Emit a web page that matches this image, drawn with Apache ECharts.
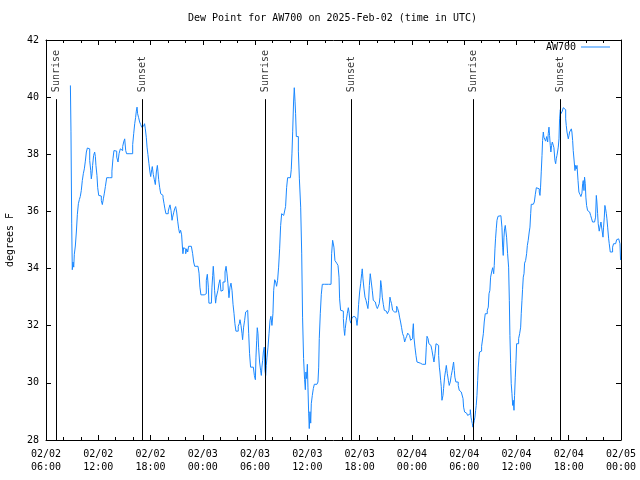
<!DOCTYPE html>
<html>
<head>
<meta charset="utf-8">
<script src="https://cdn.jsdelivr.net/npm/echarts@6/dist/echarts.min.js"></script>
<style>html,body{margin:0;padding:0;background:#fff}#c{width:640px;height:480px}</style>
</head>
<body>
<div id="c"></div>
<script>
// Minutes after 2025-02-02 06:00 UTC
const minutes = [168,172,177,181,186,191,195,202,209,216,223,230,236,243,250,257,264,271,278,285,294,301,308,312,317,321,328,335,340,344,351,356,363,372,381,388,395,402,409,418,427,436,448,454,461,468,477,487,496,503,512,521,528,535,542,549,555,567,578,590,597,604,611,617,622,627,631,638,645,652,659,666,673,679,684,691,696,702,709,716,721,728,732,739,746,753,760,767,771,776,783,790,797,806,813,819,826,836,842,849,854,861,868,872,879,886,893,900,907,914,920,927,934,939,943,948,955,962,969,976,982,992,1001,1010,1017,1024,1035,1047,1054,1060,1067,1079,1090,1097,1104,1111,1118,1122,1132,1139,1143,1148,1152,1157,1161,1168,1173,1180,1184,1191,1198,1205,1212,1219,1226,1233,1240,1246,1253,1260,1267,1274,1281,1288,1295,1301,1308,1318,1324,1331,1336,1343,1350,1354,1361,1368,1375,1382,1389,1396,1402,1409,1421,1428,1435,1442,1446,1451,1455,1460,1464,1471,1478,1483,1487,1492,1497,1503,1508,1513,1517,1522,1529,1536,1543,1549,1556,1563,1568,1575,1582,1588,1595,1602,1609,1616,1623,1630,1637,1644,1650,1657,1664,1673,1683,1689,1694,1699,1705,1710,1715,1719,1724,1733,1738,1745,1754,1761,1767,1774,1781,1786,1790,1795,1800,1804,1809,1813,1818,1823,1827,1834,1841,1848,1857,1866,1873,1878,1882,1889,1896,1903,1917,1930,1946,1963,
1967,1974,1983,1990,2002,2011,2018,2022,2029,2041,2048,2052,2057,2061,2068,2075,2082,2087,2093,2100,2107,2114,2121,2128,2135,2142,2148,2153,2160,2167,2174,2178,2183,2190,2197,2204,2210,2217,2222,2227,2233,2240,2247,2254,2261,2268,2275,2282,2288,2295,2300,2305,2311,2316,2323,2330,2337,2344,2351,2357,2362,2369,2373,2380,2387,2394,2401,2408,2415,2422,2429,2435,2442,2449,2456,2463,2470,2477,2484,2491,2497,2504,2511,2518,2525,2530,2534,2541,2548,2555,2566,2578,2592,2605,2614,2619,2624,2631,2637,2644,2651,2658,2665,2672,2679,2686,2693,2699,2704,2709,2713,2718,2722,2727,2734,2738,2745,2752,2757,2764,2771,2777,2784,2791,2798,2803,2807,2812,2816,2823,2833,2839,2846,2853,2860,2867,2872,2876,2883,2890,2897,2904,2911,2917,2922,2927,2931,2936,2940,2945,2950,2954,2959,2963,2968,2973,2977,2982,2986,2993,3000,3007,3012,3018,3025,3032,3039,3046,3051,3057,3062,3069,3076,3083,3087,3092,3096,3101,3106,3113,3119,3126,3133,3140,3145,3149,3154,3158,3163,3168,3172,3179,3186,3191,3195,3200,3204,3209,3214,3218,3223,3227,3232,3237,3241,3248,3255,3262,3269,3273,3278,3282,3287,3292,3296,3303,3310,3315,3321,3328,3333,3338,3342,3349,3356,3363,3370,3377,3383,3390,3397,3402,3406,3411,3416,3420,3425,3429,3436,3441,3448,3455,3459,3464,3468,3473,3477,3482,3487,3491,3498,3505,3510,3514,3519,3523,3528,3533,3537,3542,3546,3551,3556,3562,3567,3572,3579,3583,3588,3592,3597,3602,3606,3613,3618,3622,3627,3631,3638,3643,3647,3652,3657,3664,3670,3677,3684,3691,3696,3700,3705,3709,3714,3718,3723,3730,3737,3744,3751,3758,3764,3771,3778,3785,3790,3794,3799,3803,3810,3815,3822,3826,3831,3836,3840,3845,3849,3854,3859,3863,3868,3875,3879,3886,3895,3902,3909,3916,3923,3930,3937,3944,3948,3953,3957];
const dewF = [40.41,38.81,35.59,33.96,34.23,34.05,34.50,34.79,35.28,35.90,36.27,36.42,36.52,36.73,37.08,37.32,37.49,37.76,38.08,38.22,38.19,37.78,37.43,37.14,37.32,37.61,37.96,38.08,37.92,37.61,37.26,36.83,36.56,36.54,36.38,36.24,36.44,36.64,36.87,37.18,37.18,37.18,37.18,37.41,37.84,38.13,38.11,37.90,37.73,38.02,38.19,38.13,38.27,38.43,38.54,38.13,38.02,38.02,38.02,38.02,38.34,38.72,39.07,39.28,39.51,39.65,39.42,39.28,39.13,39.04,38.95,38.99,38.95,39.07,38.89,38.58,38.25,37.99,37.67,37.38,37.22,37.46,37.57,37.29,37.11,36.94,37.38,37.61,37.41,37.11,36.83,36.62,36.56,36.48,36.27,36.09,35.92,35.92,36.01,36.15,36.23,36.03,35.69,35.80,35.95,36.09,36.17,35.98,35.66,35.39,35.24,35.34,35.18,34.79,34.52,34.73,34.69,34.52,34.69,34.58,34.78,34.78,34.78,34.52,34.23,34.08,34.08,34.08,33.84,33.35,33.08,33.08,33.08,33.12,33.59,33.80,33.35,32.79,32.79,32.79,33.35,33.76,34.08,33.71,33.24,32.79,33.00,32.94,33.24,33.47,33.61,33.21,33.24,33.53,33.53,33.88,34.08,33.84,33.47,32.98,33.35,33.49,33.24,32.75,32.42,32.07,31.81,31.81,31.98,32.07,32.21,32.01,31.72,31.51,31.95,32.19,32.48,32.54,32.60,31.72,31.02,30.55,30.55,30.53,30.26,30.11,30.90,31.49,31.93,31.72,31.25,30.73,30.44,30.26,30.55,30.79,31.08,31.25,30.44,30.26,30.61,30.90,31.25,31.72,32.19,32.33,32.01,32.42,33.24,33.61,33.53,33.38,33.59,34.05,34.69,35.51,35.92,35.86,35.83,35.83,36.17,36.83,37.18,37.18,37.18,37.46,38.04,38.81,39.83,40.33,39.86,39.42,38.62,38.62,38.11,37.14,36.15,34.54,32.30,30.85,30.11,29.76,30.38,30.15,30.65,29.85,28.94,28.40,28.99,28.59,29.27,29.56,29.80,29.95,29.95,29.95,30.03,30.55,31.55,32.42,33.10,33.45,33.45,33.45,33.45,33.45,
34.52,34.99,34.75,34.28,34.19,34.11,33.70,32.94,32.54,32.51,32.25,31.90,31.66,31.90,32.19,32.42,32.63,32.48,32.19,32.09,32.28,32.33,32.40,32.28,32.25,32.01,32.30,32.75,33.18,33.47,33.82,33.99,33.64,33.29,33.00,32.89,32.83,32.60,32.89,33.41,33.82,33.53,33.24,32.89,32.83,32.77,32.68,32.60,32.65,32.77,33.00,33.58,33.35,33.00,32.75,32.54,32.51,32.48,32.42,32.36,32.54,33.00,32.89,32.77,32.54,32.48,32.54,32.48,32.68,32.60,32.48,32.30,32.13,31.93,31.72,31.63,31.43,31.55,31.63,31.74,31.74,31.66,31.49,31.55,31.78,32.07,31.60,31.25,30.96,30.73,30.69,30.65,30.65,30.65,30.73,31.25,31.63,31.55,31.37,31.31,31.31,31.14,30.93,30.73,31.02,31.37,31.35,31.31,30.96,30.55,30.38,30.09,29.88,29.39,29.56,29.80,30.20,30.44,30.61,30.32,30.09,29.91,30.03,30.26,30.44,30.61,30.73,30.44,30.20,30.03,30.03,29.91,29.74,29.68,29.64,29.62,29.45,29.15,28.98,28.94,28.98,28.86,28.80,28.92,29.06,28.80,28.69,28.57,28.45,28.57,28.69,28.80,29.04,29.21,29.56,30.09,30.55,30.90,31.08,31.11,31.28,31.31,31.72,32.13,32.42,32.42,32.54,32.65,33.12,33.24,33.70,33.88,34.03,33.82,34.11,34.69,35.04,35.39,35.69,35.83,35.86,35.85,35.80,35.45,34.75,34.46,35.10,35.39,35.51,35.45,35.10,34.52,34.05,32.89,31.66,30.67,29.97,29.62,29.21,29.39,29.04,29.56,30.20,30.79,31.37,31.37,31.55,31.72,31.95,32.42,32.89,33.26,33.70,33.82,34.19,34.28,34.52,34.81,34.99,35.28,35.45,35.92,36.25,36.25,36.25,36.33,36.60,36.83,36.83,36.79,36.68,36.56,36.85,37.41,37.96,38.48,38.78,38.60,38.58,38.46,38.62,38.43,38.72,38.95,38.66,38.31,38.08,38.31,38.43,38.48,38.23,37.78,37.67,37.84,37.96,38.08,38.25,38.54,39.24,39.56,39.42,39.48,39.51,39.63,39.67,39.56,39.24,39.01,38.78,38.72,38.54,38.66,38.78,38.83,38.89,38.78,38.48,38.13,37.73,37.43,37.61,37.49,37.61,37.08,36.68,36.60,36.52,36.64,36.97,37.08,36.73,37.20,36.97,36.50,36.21,36.03,35.98,35.92,35.86,35.74,35.63,35.63,35.63,35.80,36.56,36.33,35.92,35.57,35.31,35.45,35.63,35.57,35.28,35.10,35.45,35.80,36.21,36.09,35.92,35.74,35.45,35.04,34.87,34.58,34.58,34.75,34.87,34.87,34.93,35.01,35.04,35.10,34.99,34.87,34.30];
// Sunrise / sunset (minutes after 2025-02-02 06:00 UTC)
const sunMinutes = [71, 663, 1510, 2103, 2943, 3540];
const sunLabels = ['Sunrise', 'Sunset', 'Sunrise', 'Sunset', 'Sunrise', 'Sunset'];
const sunLineTop = 39.93;
const xTickLabels = ['02/02\n06:00','02/02\n12:00','02/02\n18:00','02/03\n00:00','02/03\n06:00','02/03\n12:00','02/03\n18:00','02/04\n00:00','02/04\n06:00','02/04\n12:00','02/04\n18:00','02/05\n00:00'];
const yTicks = [28, 30, 32, 34, 36, 38, 40, 42];

const FONT = 'DejaVu Sans Mono';
const series = minutes.map((m, i) => [m, dewF[i]]);
const chart = echarts.init(document.getElementById('c'), null, {renderer: 'canvas'});
const xCommon = {
  type: 'value', min: 0, max: 3960, interval: 360,
  splitLine: {show: false},
  axisLine: {show: true, onZero: false, lineStyle: {color: '#000', width: 1}},
  axisTick: {show: true, inside: true, length: 5, lineStyle: {color: '#000'}},
  minorTick: {show: true, splitNumber: 3, length: 3, lineStyle: {color: '#000'}}
};
const yCommon = {
  type: 'value', min: yTicks[0], max: yTicks[yTicks.length - 1], interval: 2,
  splitLine: {show: false},
  axisLine: {show: true, onZero: false, lineStyle: {color: '#000', width: 1}},
  axisTick: {show: true, inside: true, length: 5, lineStyle: {color: '#000'}}
};
chart.setOption({
  animation: false,
  backgroundColor: '#fff',
  title: {
    text: 'Dew Point for AW700 on 2025-Feb-02 (time in UTC)',
    left: 188, top: 13, padding: 0,
    textStyle: {fontFamily: FONT, fontSize: 10, fontWeight: 'normal', color: '#000'}
  },
  legend: {
    data: ['AW700'], right: 30, top: 42, padding: 0, align: 'right',
    icon: 'rect', itemWidth: 29, itemHeight: 1,
    textStyle: {fontFamily: FONT, fontSize: 10, color: '#000'}
  },
  grid: {left: 46, right: 19, top: 40, bottom: 40, containLabel: false, outerBoundsMode: 'none'},
  xAxis: [
    Object.assign({}, xCommon, {
      position: 'bottom',
      axisLabel: {
        show: true, margin: 8, fontFamily: FONT, fontSize: 10, color: '#000', lineHeight: 13,
        showMinLabel: true, showMaxLabel: true,
        formatter: v => xTickLabels[Math.round(v / 360)] || ''
      }
    }),
    Object.assign({}, xCommon, {position: 'top', axisLabel: {show: false}})
  ],
  yAxis: [
    Object.assign({}, yCommon, {
      position: 'left',
      name: 'degrees F', nameLocation: 'middle', nameGap: 31, nameRotate: 90,
      nameTextStyle: {fontFamily: FONT, fontSize: 10, color: '#000'},
      axisLabel: {show: true, margin: 7, fontFamily: FONT, fontSize: 10, color: '#000'}
    }),
    Object.assign({}, yCommon, {position: 'right', axisLabel: {show: false}})
  ],
  series: [
    {
      name: 'AW700', type: 'line', step: 'end', data: series,
      symbol: 'none', showSymbol: false,
      lineStyle: {color: '#1a88ff', width: 1},
      itemStyle: {color: '#1a88ff'},
      markLine: {
        silent: true, symbol: 'none', animation: false,
        label: {show: false},
        lineStyle: {color: '#000', width: 1, type: 'solid'},
        data: sunMinutes.map(m => [{coord: [m, yTicks[0]]}, {coord: [m, sunLineTop]}])
      }
    },
    {
      name: 'sun', type: 'scatter', symbolSize: 0, silent: true,
      data: sunMinutes.map((m, i) => ({value: [m, sunLineTop], name: sunLabels[i]})),
      label: {
        show: true, position: 'top', distance: 7, rotate: 90,
        align: 'left', verticalAlign: 'middle',
        formatter: p => p.name,
        fontFamily: FONT, fontSize: 10, color: '#000'
      }
    }
  ]
});
</script>
</body>
</html>
